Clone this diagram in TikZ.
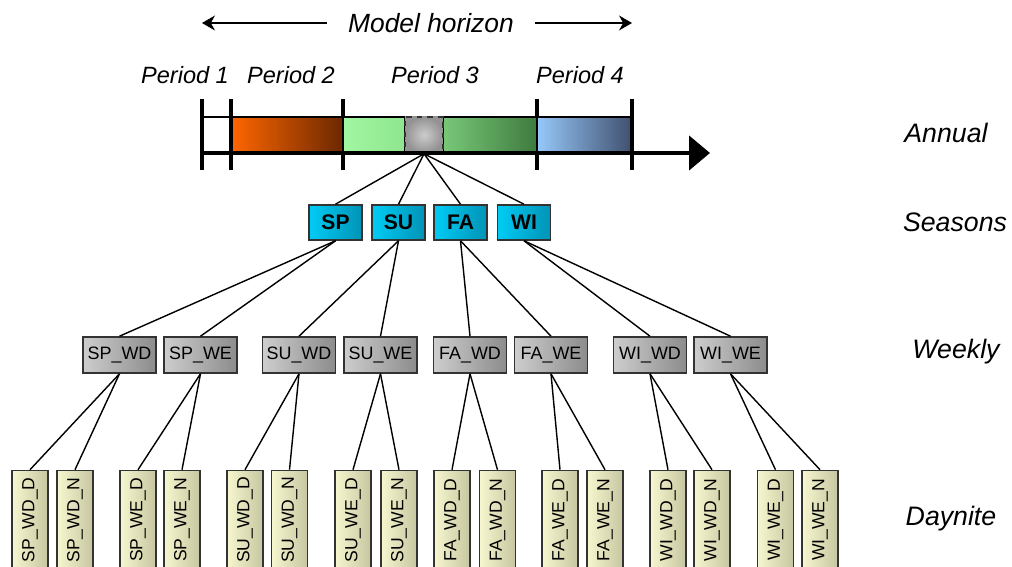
\documentclass[tikz,border=0pt]{standalone}
\usepackage{fontspec}
\setmainfont{Liberation Sans}
\usepackage{graphicx}
\usetikzlibrary{arrows.meta,positioning}
\definecolor{boxline}{HTML}{333333}
\definecolor{orangeL}{HTML}{FF6600}
\definecolor{orangeR}{HTML}{6B2800}
\definecolor{greenA}{HTML}{A2F7A2}
\definecolor{greenB}{HTML}{8EE68E}
\definecolor{greenC}{HTML}{78C878}
\definecolor{greenD}{HTML}{3F7A3F}
\definecolor{blueL}{HTML}{96C8FA}
\definecolor{blueR}{HTML}{40506E}
\definecolor{seasonL}{HTML}{00CCF5}
\definecolor{seasonR}{HTML}{0093B6}
\definecolor{weekL}{HTML}{CDCDCD}
\definecolor{weekR}{HTML}{8C8C8C}
\definecolor{dayL}{HTML}{F6F6CF}
\definecolor{dayR}{HTML}{C6C6A0}

\begin{document}
\begin{tikzpicture}[x=0.02cm, y=-0.02cm,
      season/.style={draw=boxline, line width=0.9pt, minimum width=1.06cm, minimum height=0.7cm,
                     inner sep=0pt, left color=seasonL, right color=seasonR,
                     font=\fontsize{12}{14}\selectfont\bfseries},
      week/.style={draw=boxline, line width=0.9pt, minimum width=1.46cm, minimum height=0.72cm,
                   inner sep=0pt, left color=weekL, right color=weekR,
                   font=\fontsize{10.2}{12}\selectfont},
      daynite/.style={draw=boxline, line width=0.9pt, minimum width=0.72cm, minimum height=1.98cm,
                      inner sep=0pt, left color=dayL, right color=dayR,
                      font=\fontsize{10}{12}\selectfont},
      slice/.style={draw=boxline, dashed, line width=0.9pt, minimum width=0.76cm, minimum height=0.72cm,
                    inner sep=0pt, inner color=gray!40, outer color=gray!85},
      bar/.style={draw=black, line width=1pt},
      level/.style={font=\fontsize{15.2}{18}\selectfont\itshape},
      period/.style={font=\fontsize{13.4}{16}\selectfont\itshape},
      horizon/.style={font=\fontsize{15}{18}\selectfont\itshape, inner xsep=0.42cm},
      harr/.style={-{Stealth[length=2.6mm, width=3mm]}, line width=0.6pt},
      link/.style={line width=0.8pt},
      tick/.style={line width=2.6pt}
    ]
      \useasboundingbox (0,0) rectangle (1012,567);

      % Model horizon
      \node[horizon] (mh) at (431,23) {Model horizon};
      \coordinate (mhl) at (202,23);
      \coordinate (mhr) at (632,23);
      \draw[harr] (mh) -- (mhl);
      \draw[harr] (mh) -- (mhr);

      \node[period] (p1) at (185,75) {Period 1};
      \node[period] (p2) at (291,75) {Period 2};
      \node[period] (p3) at (435,75) {Period 3};
      \node[period] (p4) at (580,75) {Period 4};

      % Annual time line
      \draw[tick] (343,99) -- (343,170);
      \draw[tick] (537,99) -- (537,170);
      \draw[bar, fill=white] (202,117) rectangle (231,153);
      \draw[bar, left color=orangeL, right color=orangeR] (231,117) rectangle (343,153);
      \draw[bar, left color=greenA, right color=greenB] (343,117) rectangle (405,153);
      \draw[bar, left color=greenC, right color=greenD] (443,117) rectangle (537,153);
      \draw[bar, left color=blueL, right color=blueR] (537,117) rectangle (632,153);
      \node[slice] (slice) at (424,135) {};
      \draw[tick] (202,99) -- (202,170);
      \draw[tick] (231,99) -- (231,170);
      \draw[tick] (632,99) -- (632,170);
      \draw[tick, -{Triangle[length=0.42cm, width=0.68cm]}] (202,153) -- (710,153);

      % Level labels
      \node[level] (annual) at (946,133) {Annual};
      \node[level] (seasons) at (955,222) {Seasons};
      \node[level] (weekly) at (956,352) {Weekly};
      \node[level] (daynite) at (951,519) {Daynite};

      % Seasons
      \node[season] (sp) at (335.5,222.5) {SP};
      \node[season] (su) at (398.5,222.5) {SU};
      \node[season] (fa) at (460.5,222.5) {FA};
      \node[season] (wi) at (524,222.5) {WI};

      \draw[link] (slice.south) -- (sp.north);
      \draw[link] (slice.south) -- (su.north);
      \draw[link] (slice.south) -- (fa.north);
      \draw[link] (slice.south) -- (wi.north);

      % Weekly
      \node[week] (spwd) at (119.5,355) {SP\_WD};
      \node[week] (spwe) at (200.5,355) {SP\_WE};
      \node[week] (suwd) at (299,355) {SU\_WD};
      \node[week] (suwe) at (380.5,355) {SU\_WE};
      \node[week] (fawd) at (470,355) {FA\_WD};
      \node[week] (fawe) at (551,355) {FA\_WE};
      \node[week] (wiwd) at (650,355) {WI\_WD};
      \node[week] (wiwe) at (730.5,355) {WI\_WE};

      \draw[link] (sp.south) -- (spwd.north);
      \draw[link] (sp.south) -- (spwe.north);
      \draw[link] (su.south) -- (suwd.north);
      \draw[link] (su.south) -- (suwe.north);
      \draw[link] (fa.south) -- (fawd.north);
      \draw[link] (fa.south) -- (fawe.north);
      \draw[link] (wi.south) -- (wiwd.north);
      \draw[link] (wi.south) -- (wiwe.north);

      % Daynite
      \node[daynite] (spwdd) at (30,520) {\rotatebox{90}{SP\_WD\_D}};
      \node[daynite] (spwdn) at (75,520) {\rotatebox{90}{SP\_WD\_N}};
      \node[daynite] (spwed) at (138,520) {\rotatebox{90}{SP\_WE\_D}};
      \node[daynite] (spwen) at (182,520) {\rotatebox{90}{SP\_WE\_N}};
      \node[daynite] (suwdd) at (245,520) {\rotatebox{90}{SU\_WD\_D}};
      \node[daynite] (suwdn) at (289.5,520) {\rotatebox{90}{SU\_WD\_N}};
      \node[daynite] (suwed) at (353,520) {\rotatebox{90}{SU\_WE\_D}};
      \node[daynite] (suwen) at (399,520) {\rotatebox{90}{SU\_WE\_N}};
      \node[daynite] (fawdd) at (452,520) {\rotatebox{90}{FA\_WD\_D}};
      \node[daynite] (fawdn) at (497.5,520) {\rotatebox{90}{FA\_WD\_N}};
      \node[daynite] (fawed) at (560,520) {\rotatebox{90}{FA\_WE\_D}};
      \node[daynite] (fawen) at (605,520) {\rotatebox{90}{FA\_WE\_N}};
      \node[daynite] (wiwdd) at (668,520) {\rotatebox{90}{WI\_WD\_D}};
      \node[daynite] (wiwdn) at (712,520) {\rotatebox{90}{WI\_WD\_N}};
      \node[daynite] (wiwed) at (775.5,520) {\rotatebox{90}{WI\_WE\_D}};
      \node[daynite] (wiwen) at (820,520) {\rotatebox{90}{WI\_WE\_N}};

      \draw[link] (spwd.south) -- (spwdd.north);
      \draw[link] (spwd.south) -- (spwdn.north);
      \draw[link] (spwe.south) -- (spwed.north);
      \draw[link] (spwe.south) -- (spwen.north);
      \draw[link] (suwd.south) -- (suwdd.north);
      \draw[link] (suwd.south) -- (suwdn.north);
      \draw[link] (suwe.south) -- (suwed.north);
      \draw[link] (suwe.south) -- (suwen.north);
      \draw[link] (fawd.south) -- (fawdd.north);
      \draw[link] (fawd.south) -- (fawdn.north);
      \draw[link] (fawe.south) -- (fawed.north);
      \draw[link] (fawe.south) -- (fawen.north);
      \draw[link] (wiwd.south) -- (wiwdd.north);
      \draw[link] (wiwd.south) -- (wiwdn.north);
      \draw[link] (wiwe.south) -- (wiwed.north);
      \draw[link] (wiwe.south) -- (wiwen.north);
    \end{tikzpicture}
\end{document}
